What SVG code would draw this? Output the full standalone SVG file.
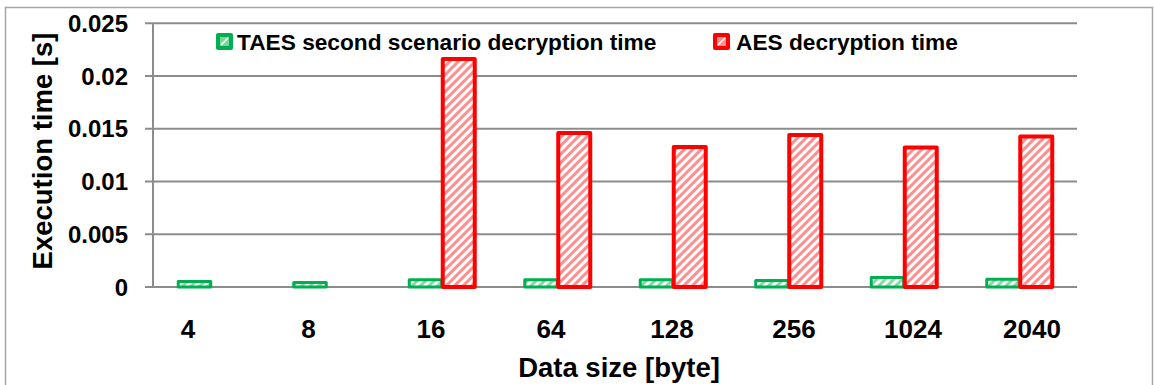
<svg xmlns="http://www.w3.org/2000/svg" width="1154" height="385" viewBox="0 0 1154 385">
  <style>
    text { font-family: "Liberation Sans", Arial, sans-serif; font-weight: bold; fill: #000; }
    .grid { stroke: #8c8c8c; stroke-width: 2; fill: none; }
    .tick { font-size: 24px; text-anchor: end; }
    .cat { font-size: 26px; text-anchor: middle; }
    .legend { font-size: 22.7px; }
    .title { font-size: 27.5px; text-anchor: middle; }
    .taes { fill: url(#hatchGreen); stroke: #00b050; stroke-width: 3; stroke-linejoin: round; }
    .aes { fill: url(#hatchRed); stroke: #ff0000; stroke-width: 4; stroke-linejoin: round; }
  </style>
  <defs>
    <pattern id="hatchRed" patternUnits="userSpaceOnUse" width="6" height="6" patternTransform="rotate(45)">
      <rect width="6" height="6" fill="#ffffff"/>
      <rect width="3" height="6" fill="#ff8f8f"/>
    </pattern>
    <pattern id="hatchGreen" patternUnits="userSpaceOnUse" width="6" height="6" patternTransform="rotate(45)">
      <rect width="6" height="6" fill="#ffffff"/>
      <rect width="3" height="6" fill="#86d9a8"/>
    </pattern>
  </defs>

  <!-- chart frame -->
  <rect x="5.5" y="7.5" width="1147" height="390" fill="#ffffff" stroke="#a6a6a6" stroke-width="1.5"/>

  <!-- gridlines and axes -->
  <g id="axes">
    <line class="grid" x1="145" y1="23.25" x2="1077" y2="23.25"/>
    <line class="grid" x1="145" y1="76" x2="1077" y2="76"/>
    <line class="grid" x1="145" y1="128.75" x2="1077" y2="128.75"/>
    <line class="grid" x1="145" y1="181.5" x2="1077" y2="181.5"/>
    <line class="grid" x1="145" y1="234.25" x2="1077" y2="234.25"/>
    <line class="grid" x1="153" y1="23.25" x2="153" y2="287"/>
    <line class="grid" x1="145" y1="287" x2="1077" y2="287"/>
  </g>

  <!-- value axis labels -->
  <g id="y-ticks">
    <text class="tick" x="128" y="31.8">0.025</text>
    <text class="tick" x="128" y="84.6">0.02</text>
    <text class="tick" x="128" y="137.3">0.015</text>
    <text class="tick" x="128" y="190.1">0.01</text>
    <text class="tick" x="128" y="242.8">0.005</text>
    <text class="tick" x="128" y="295.6">0</text>
  </g>

  <!-- category labels -->
  <g id="x-ticks">
    <text class="cat" x="188" y="338">4</text>
    <text class="cat" x="308.5" y="338">8</text>
    <text class="cat" x="431" y="338">16</text>
    <text class="cat" x="551" y="338">64</text>
    <text class="cat" x="672" y="338">128</text>
    <text class="cat" x="794" y="338">256</text>
    <text class="cat" x="913" y="338">1024</text>
    <text class="cat" x="1032" y="338">2040</text>
  </g>

  <!-- TAES second scenario decryption time -->
  <g id="series-taes">
    <rect class="taes" x="178.25" y="281.5" width="32.5" height="5.5"/>
    <rect class="taes" x="293.75" y="282.5" width="32.5" height="4.5"/>
    <rect class="taes" x="409.25" y="279.8" width="32.5" height="7.2"/>
    <rect class="taes" x="524.75" y="279.8" width="32.5" height="7.2"/>
    <rect class="taes" x="640.25" y="279.8" width="32.5" height="7.2"/>
    <rect class="taes" x="755.75" y="280.5" width="32.5" height="6.5"/>
    <rect class="taes" x="871.25" y="277.5" width="32.5" height="9.5"/>
    <rect class="taes" x="986.75" y="279.2" width="32.5" height="7.8"/>
  </g>

  <!-- AES decryption time -->
  <g id="series-aes">
    <rect class="aes" x="442.75" y="59" width="32" height="228"/>
    <rect class="aes" x="558.25" y="133" width="32" height="154"/>
    <rect class="aes" x="673.75" y="147" width="32" height="140"/>
    <rect class="aes" x="789.25" y="135" width="32" height="152"/>
    <rect class="aes" x="904.75" y="147.5" width="32" height="139.5"/>
    <rect class="aes" x="1020.25" y="136.5" width="32" height="150.5"/>
  </g>

  <!-- legend -->
  <g id="legend-taes">
    <rect x="216" y="33" width="17" height="17" rx="2" fill="#00b050"/>
    <rect x="220" y="37" width="9" height="9" fill="#7ad69f"/>
    <line x1="221" y1="45" x2="228" y2="38" stroke="#ffffff" stroke-width="1.6"/>
    <text class="legend" x="237" y="50">TAES second scenario decryption time</text>
  </g>
  <g id="legend-aes">
    <rect x="713" y="33" width="17" height="17" rx="2" fill="#ff0000"/>
    <rect x="717" y="37" width="9" height="9" fill="#ff8a8a"/>
    <line x1="718" y1="45" x2="725" y2="38" stroke="#ffffff" stroke-width="1.6"/>
    <text class="legend" x="736" y="50">AES decryption time</text>
  </g>

  <!-- axis titles -->
  <text class="title" x="619" y="377">Data size [byte]</text>
  <text class="title" transform="translate(52 151) rotate(-90)" x="0" y="0" font-size="28">Execution time [s]</text>
</svg>
